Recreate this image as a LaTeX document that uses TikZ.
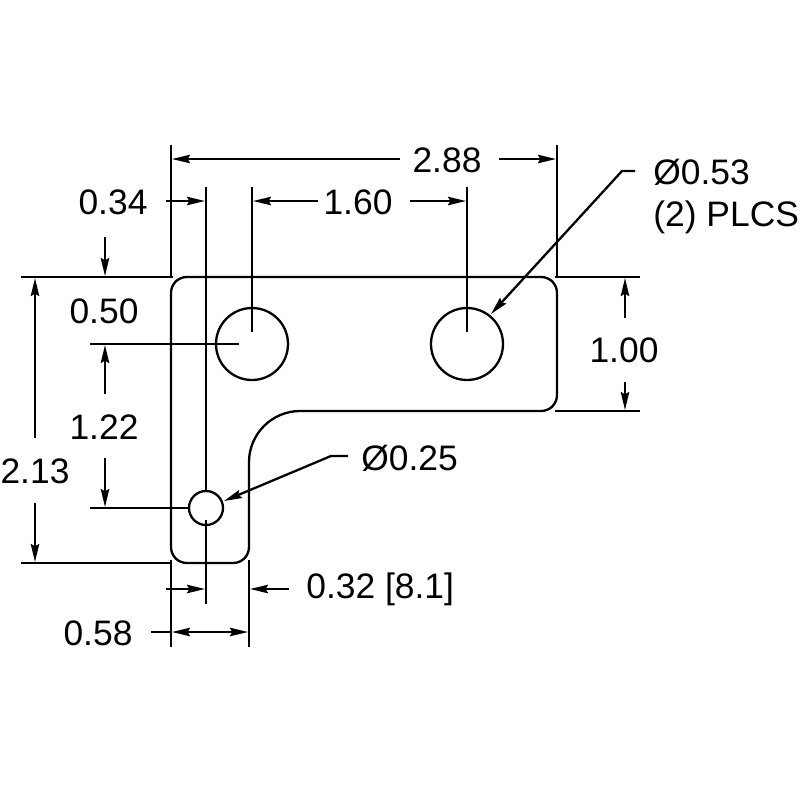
\documentclass[tikz,border=0pt]{standalone}
\usepackage{fontspec}
\setmainfont{Liberation Sans}
\usetikzlibrary{arrows.meta}
\tikzset{
	part/.style={line width=1.15pt,line join=round},
	dimline/.style={line width=1.15pt},
	dimtip/.style={dimline,-{Stealth[length=9pt,width=4.2pt,inset=1.2pt]}},
	dimboth/.style={dimline,{Stealth[length=9pt,width=4.2pt,inset=1.2pt]}-{Stealth[length=9pt,width=4.2pt,inset=1.2pt]}},
	dimtext/.style={inner sep=0pt,font=\fontsize{17.7}{20}\selectfont,text=black}
}
\begin{document}
\begin{tikzpicture}[x=0.5pt,y=-0.5pt]
	\useasboundingbox (0,0) rectangle (800,800);
	% plate
	\draw [part] (187,277)-- (541,277) .. controls (550,277) and (557,284) .. (557,293)
		-- (557,395) .. controls (557,404) and (550,411) .. (541,411)
		-- (300,411) .. controls (272,411) and (249,434) .. (249,462)
		-- (249,547) .. controls (249,556) and (242,563) .. (233,563)
		-- (187,563) .. controls (178,563) and (171,556) .. (171,547)
		-- (171,293) .. controls (171,284) and (178,277) .. (187,277);
	\draw [part] (252,344) circle (36);
	\draw [part] (467,344) circle (36);
	\draw [part] (206,508) circle (17);
	% extension lines
	\draw [dimline] (171,145)-- (171,277);
	\draw [dimline] (557,145)-- (557,277);
	\draw [dimline] (206,187)-- (206,491);
	\draw [dimline] (206,520)-- (206,604);
	\draw [dimline] (252,187)-- (252,332);
	\draw [dimline] (467,187)-- (467,332);
	\draw [dimline] (21,277)-- (173,277);
	\draw [dimline] (21,563)-- (170,563);
	\draw [dimline] (90,344)-- (239,344);
	\draw [dimline] (90,508)-- (190,508);
	\draw [dimline] (555,277)-- (640,277);
	\draw [dimline] (555,411)-- (640,411);
	\draw [dimline] (171,560)-- (171,647);
	\draw [dimline] (249,560)-- (249,647);
	% dimension arrows
	\draw [dimtip] (400,159)-- (172,159);
	\draw [dimtip] (499,159)-- (556,159);
	\draw [dimtip] (166,201)-- (205,201);
	\draw [dimtip] (318,201)-- (253,201);
	\draw [dimtip] (410,201)-- (466,201);
	\draw [dimtip] (105,237)-- (105,276);
	\draw [dimtip] (105,394)-- (105,345);
	\draw [dimtip] (105,458)-- (105,507);
	\draw [dimtip] (35,438)-- (35,278);
	\draw [dimtip] (35,503)-- (35,562);
	\draw [dimtip] (625,318)-- (625,278);
	\draw [dimtip] (625,382)-- (625,410);
	\draw [dimtip] (166,589)-- (205,589);
	\draw [dimtip] (289,589)-- (250,589);
	\draw [dimline] (151,632)-- (172,632);
	\draw [dimboth] (172,632)-- (248,632);
	% leaders
	\draw [dimtip] (635,171)-- (622,171)-- (491,314);
	\draw [dimtip] (348,456)-- (331,456)-- (224,501);
	% labels
	\node [dimtext] (top) at (447,160) {2.88};
	\node [dimtext] (edge) at (113,202) {0.34};
	\node [dimtext] (pitch) at (358,202) {1.60};
	\node [dimtext] (hole) at (104,311) {0.50};
	\node [dimtext] (drop) at (104,427) {1.22};
	\node [dimtext] (tall) at (35,471) {2.13};
	\node [dimtext] (arm) at (624,350) {1.00};
	\node [dimtext] (stem) at (98,633) {0.58};
	\node [dimtext,anchor=west] (metric) at (306,589) {0.32 [8.1]};
	\node [dimtext,anchor=west] (small) at (361,458) {Ø0.25};
	\node [dimtext,anchor=west] (large) at (653,172) {Ø0.53};
	\node [dimtext,anchor=west] (plcs) at (653,217) {(2) PLCS};
\end{tikzpicture}
\end{document}
